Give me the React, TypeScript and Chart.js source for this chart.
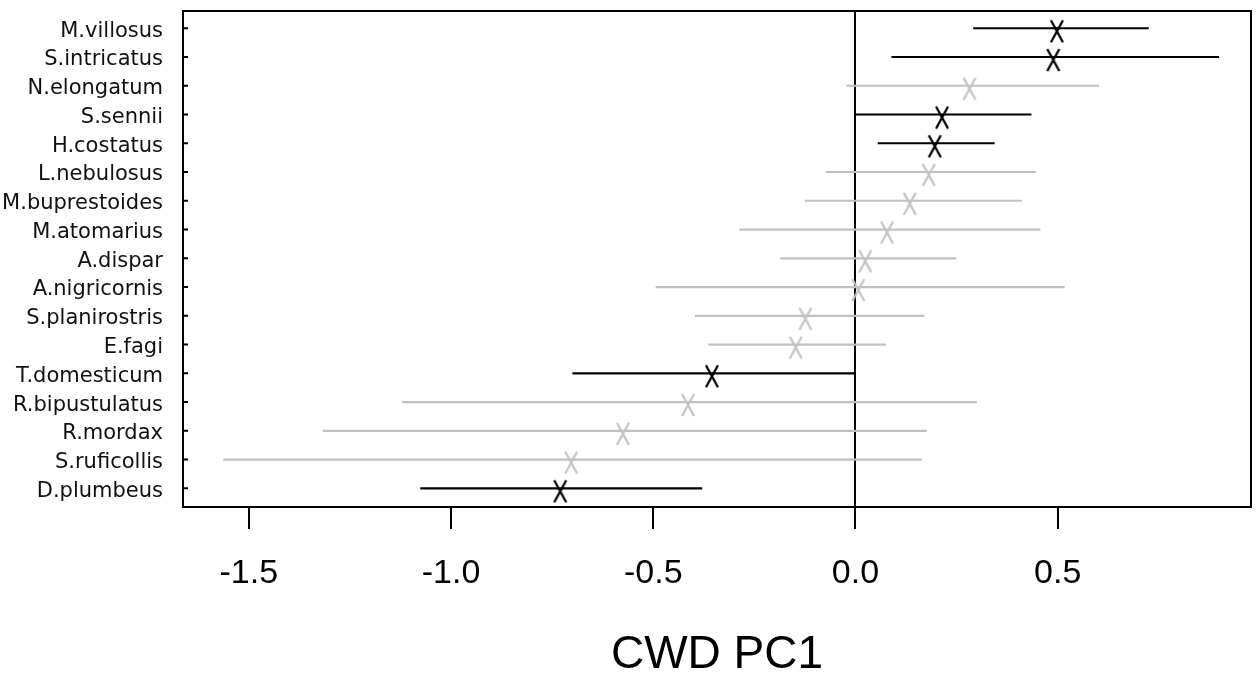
import React, { useEffect, useRef } from 'react';
import { Chart, registerables } from 'chart.js';

Chart.register(...registerables);

// ---- data ----
const species = [
  'M.villosus', 'S.intricatus', 'N.elongatum', 'S.sennii', 'H.costatus',
  'L.nebulosus', 'M.buprestoides', 'M.atomarius', 'A.dispar', 'A.nigricornis',
  'S.planirostris', 'E.fagi', 'T.domesticum', 'R.bipustulatus', 'R.mordax',
  'S.ruficollis', 'D.plumbeus',
];
const means = [
  0.498, 0.489, 0.282, 0.214, 0.196,
  0.181, 0.134, 0.078, 0.024, 0.007,
  -0.124, -0.148, -0.355, -0.414, -0.575,
  -0.703, -0.730,
];
const lower = [
  0.291, 0.089, -0.023, 0.0, 0.055,
  -0.074, -0.125, -0.287, -0.186, -0.494,
  -0.397, -0.364, -0.700, -1.121, -1.317,
  -1.563, -1.076,
];
const upper = [
  0.725, 0.899, 0.602, 0.435, 0.344,
  0.446, 0.411, 0.457, 0.249, 0.517,
  0.170, 0.075, 0.0, 0.300, 0.176,
  0.165, -0.379,
];
const significant = [
  true, true, false, true, true,
  false, false, false, false, false,
  false, false, true, false, false,
  false, true,
];
const xTickValues = [-1.5, -1.0, -0.5, 0.0, 0.5];
const xAxisTitle = 'CWD PC1';

const BLACK = '#000000';
const GREY = '#c0c0c0';
const GREY_X = '#c4c4c4';

function makeX(color: string): HTMLCanvasElement {
  // letter-like X glyph, sitting slightly below the line like a plotted "X" character
  const c = document.createElement('canvas');
  c.width = 18;
  c.height = 30;
  const g = c.getContext('2d')!;
  g.strokeStyle = color;
  g.lineWidth = 2.3;
  g.beginPath();
  g.moveTo(3, 7);
  g.lineTo(15, 29);
  g.moveTo(15, 7);
  g.lineTo(3, 29);
  g.stroke();
  return c;
}

const framePlugin = {
  id: 'frame',
  afterDraw(chart: any) {
    const { ctx, chartArea } = chart;
    const y = chart.scales.y;
    ctx.save();
    ctx.strokeStyle = '#000';
    ctx.lineWidth = 2;
    ctx.strokeRect(chartArea.left, chartArea.top, chartArea.right - chartArea.left, chartArea.bottom - chartArea.top);
    ctx.beginPath();
    y.ticks.forEach((t: any) => {
      const py = y.getPixelForValue(t.value);
      ctx.moveTo(chartArea.left, py);
      ctx.lineTo(chartArea.left + 5, py);
    });
    ctx.stroke();
    ctx.restore();
  },
};

export default function App() {
  const ref = useRef<HTMLCanvasElement | null>(null);

  useEffect(() => {
    if (!ref.current) return;
    const blackX = makeX(BLACK);
    const greyX = makeX(GREY_X);

    const segmentSets = species.map((name, i) => ({
      label: name,
      data: [
        { x: lower[i], y: i + 1 },
        { x: upper[i], y: i + 1 },
      ],
      showLine: true,
      borderColor: significant[i] ? BLACK : GREY,
      borderWidth: 2.2,
      pointRadius: 0,
      order: 2,
    }));

    const pointSet = {
      label: 'mean',
      data: species.map((_, i) => ({ x: means[i], y: i + 1 })),
      showLine: false,
      pointStyle: (c: any) => (significant[c.dataIndex] ? blackX : greyX),
      pointRadius: 8,
      order: 1,
    };

    const chart = new Chart(ref.current, {
      type: 'scatter',
      data: { datasets: [...segmentSets, pointSet] as any },
      plugins: [framePlugin],
      options: {
        animation: false,
        responsive: false,
        devicePixelRatio: 1,
        layout: { padding: { top: 11, right: 5, left: 0, bottom: 0 } },
        plugins: { legend: { display: false }, tooltip: { enabled: false } },
        scales: {
          x: {
            type: 'linear',
            min: -1.6626,
            max: 0.9778,
            afterFit: (s: any) => {
              s.height = 172;
              s.paddingLeft = 0;
              s.paddingRight = 0;
            },
            afterBuildTicks: (s: any) => { s.ticks = xTickValues.map((v) => ({ value: v })); },
            grid: {
              color: (c: any) => (c.tick && c.tick.value === 0 ? '#000' : 'rgba(0,0,0,0)'),
              tickColor: '#000',
              lineWidth: 2,
              tickLength: 22,
              drawOnChartArea: true,
              drawTicks: true,
            },
            border: { display: true, color: '#000', width: 2 },
            ticks: {
              autoSkip: false,
              maxRotation: 0,
              padding: 24,
              color: '#000',
              font: { family: 'Liberation Sans, Arial, sans-serif', size: 34 },
              callback: (v: any) => Number(v).toFixed(1),
            },
            title: {
              display: true,
              text: xAxisTitle,
              color: '#000',
              font: { family: 'Liberation Sans, Arial, sans-serif', size: 46, lineHeight: 1 },
              padding: { top: 0, bottom: 1 },
            },
          },
          y: {
            type: 'linear',
            reverse: true,
            min: 0.4,
            max: 17.65,
            afterFit: (s: any) => {
              s.width = 183;
              s.paddingTop = 0;
              s.paddingBottom = 0;
            },
            afterBuildTicks: (s: any) => { s.ticks = species.map((_, i) => ({ value: i + 1 })); },
            grid: { display: false },
            border: { display: true, color: '#000', width: 2 },
            ticks: {
              autoSkip: false,
              padding: 12,
              labelOffset: 3,
              color: '#111',
              font: { family: 'DejaVu Sans, Verdana, sans-serif', size: 21 },
              callback: (v: any) => species[Math.round(Number(v)) - 1] ?? '',
            },
          },
        },
      },
    });
    return () => chart.destroy();
  }, []);

  return (
    <div style={{ position: 'fixed', left: 0, top: 0, width: 1260, height: 679, background: '#fff' }}>
      <canvas ref={ref} width={1260} height={679} style={{ width: 1260, height: 679, display: 'block' }} />
    </div>
  );
}
